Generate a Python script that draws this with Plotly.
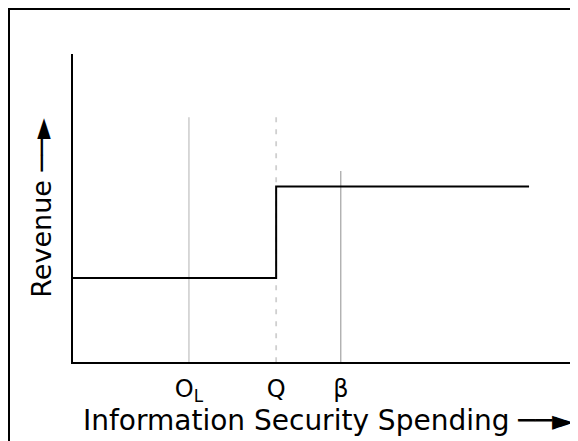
import plotly.graph_objects as go

# Data
step_x = [0.0, 3.96, 3.96, 8.89]
step_y = [2.73, 2.73, 5.7, 5.7]

marker_names = ["O<sub>L</sub>", "Q", "β"]
marker_x = [2.26, 3.96, 5.22]
marker_top = [7.95, 7.95, 6.2]

x_title = "Information Security Spending ──►"
y_title = "Revenue ──►"

fig = go.Figure()

# vertical reference lines
styles = [
    dict(color="#c8c8c8", width=1.4, dash="solid"),
    dict(color="#cfcfcf", width=1.8, dash="5px,7px"),
    dict(color="#9a9a9a", width=1.1, dash="solid"),
]
for xv, top, st in zip(marker_x, marker_top, styles):
    fig.add_trace(go.Scatter(x=[xv, xv], y=[top, 0], mode="lines",
                             line=dict(color=st["color"], width=st["width"], dash=st["dash"]),
                             hoverinfo="skip", showlegend=False))

fig.add_trace(go.Scatter(x=step_x, y=step_y, mode="lines",
                         line=dict(color="black", width=2),
                         hoverinfo="skip", showlegend=False))

font = "DejaVu Sans, Verdana, sans-serif"

fig.update_layout(
    width=578, height=441,
    margin=dict(l=65, r=0, t=46, b=87),
    paper_bgcolor="white", plot_bgcolor="white",
    font=dict(family=font, color="black"),
    xaxis=dict(range=[0, 10], showgrid=False, zeroline=False,
               showline=True, linecolor="black", linewidth=2,
               tickvals=marker_x, ticktext=marker_names, ticks="",
               tickfont=dict(size=24, family=font, color="black"),
               ticklabelstandoff=4),
    yaxis=dict(range=[0, 10], showgrid=False, zeroline=False,
               showline=True, linecolor="black", linewidth=2,
               showticklabels=False, ticks="",
               title=dict(text=y_title, font=dict(size=27, family=font, color="black"),
                          standoff=12)),
    annotations=[dict(text=x_title, xref="paper", yref="paper",
                      x=(73 - 65) / 513, y=(354 - 425) / 308,
                      xanchor="left", yanchor="bottom", yshift=-6, showarrow=False,
                      font=dict(size=28, family=font, color="black"))],
    shapes=[dict(type="rect", xref="paper", yref="paper",
                 x0=(1 - 65) / 513, x1=(600 - 65) / 513,
                 y0=(354 - 460) / 308, y1=(354 - 1) / 308,
                 line=dict(color="black", width=2), layer="above")],
)

fig.write_html("out.html")
